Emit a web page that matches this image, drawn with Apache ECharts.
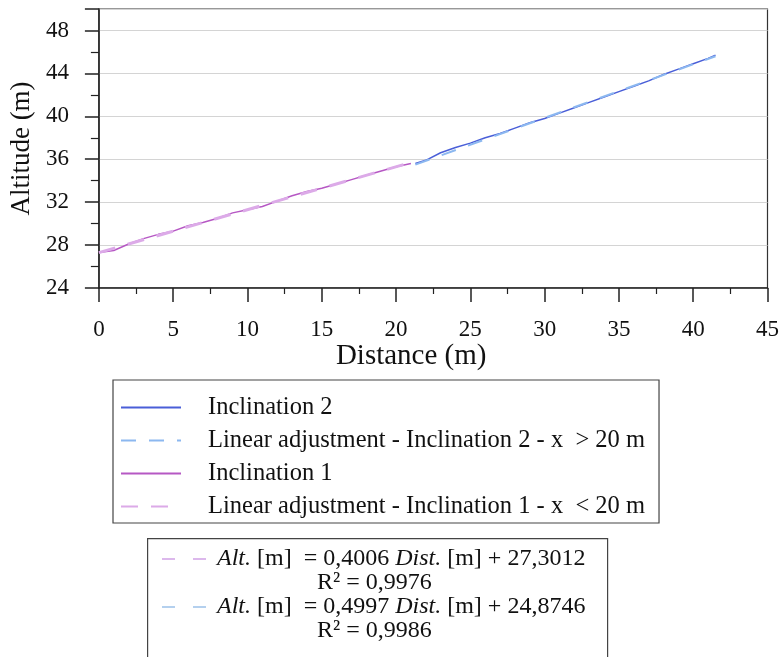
<!DOCTYPE html>
<html>
<head>
<meta charset="utf-8">
<script src="https://cdn.jsdelivr.net/npm/echarts@6/dist/echarts.min.js"></script>
<style>
  html, body { margin: 0; padding: 0; background: #fff; }
  #main { width: 782px; height: 657px; }
</style>
</head>
<body>
<div id="main"></div>
<script>
// measured profile, inclination 1 (x < 20 m)
var incl1X = [0, 1, 2, 3, 4, 5, 6, 7, 8, 9, 10, 11, 12, 13, 14, 15, 16, 17, 18, 19, 20, 21];
var incl1Y = [27.3, 27.5, 28.1, 28.6, 29.0, 29.3, 29.8, 30.1, 30.5, 31.0, 31.3, 31.6, 32.1, 32.6, 33.0, 33.3, 33.7, 34.1, 34.5, 34.9, 35.3, 35.6];

// measured profile, inclination 2 (x > 20 m)
var incl2X = [21.3, 22, 23, 24, 25, 26, 27, 28, 29, 30, 31, 32, 33, 34, 35, 36, 37, 38, 39, 40, 41, 41.5];
var incl2Y = [35.6, 35.9, 36.6, 37.1, 37.5, 38.0, 38.4, 38.9, 39.4, 39.8, 40.3, 40.8, 41.3, 41.8, 42.3, 42.8, 43.3, 43.9, 44.4, 44.9, 45.4, 45.7];

// linear adjustments (end points)
var fit1X = [0, 21];
var fit1Y = [27.3, 35.7];
var fit2X = [21.3, 41.5];
var fit2Y = [35.5, 45.6];

var seriesNames = [
  'Inclination 2',
  'Linear adjustment - Inclination 2 - x  > 20 m',
  'Inclination 1',
  'Linear adjustment - Inclination 1 - x  < 20 m'
];

var eqTexts = [
  '{i|Alt.} [m]  = 0,4006 {i|Dist.} [m] + 27,3012',
  'R² = 0,9976',
  '{i|Alt.} [m]  = 0,4997 {i|Dist.} [m] + 24,8746',
  'R² = 0,9986'
];

function pairs(xs, ys) {
  return xs.map(function (x, i) { return [x, ys[i]]; });
}

var serif = '"Liberation Serif", "Times New Roman", serif';
var italicRich = { i: { fontStyle: 'italic', fontFamily: serif, fontSize: 24, color: '#111' } };
var myChart = echarts.init(document.getElementById('main'));

var option = {
  backgroundColor: '#fff',
  animation: false,
  textStyle: { fontFamily: serif },
  grid: {
    left: 98, right: 13, top: 9, bottom: 369,
    show: true, borderColor: '#333', borderWidth: 1.2
  },
  legend: {
    data: seriesNames,
    orient: 'vertical',
    left: 113, top: 380,
    itemWidth: 60, itemHeight: 14,
    itemGap: 8,
    padding: [15, 14, 4, 7],
    borderColor: '#444', borderWidth: 1.2,
    itemStyle: { opacity: 0, borderWidth: 0 },
    textStyle: { fontFamily: serif, fontSize: 24.5, color: '#111', padding: [0, 0, 0, 22] }
  },
  xAxis: {
    type: 'value', min: 0, max: 45, interval: 5,
    name: 'Distance (m)', nameLocation: 'middle', nameGap: 54,
    nameTextStyle: { fontFamily: serif, fontSize: 29, color: '#111', padding: [0, 44, 0, 0] },
    axisLine: { lineStyle: { color: '#222', width: 1.5 } },
    axisTick: { show: true, length: 14, lineStyle: { color: '#222', width: 1.5 } },
    minorTick: { show: true, splitNumber: 2, length: 6, lineStyle: { color: '#222', width: 1.2 } },
    axisLabel: { fontFamily: serif, fontSize: 23, color: '#111', margin: 30 },
    splitLine: { show: false }
  },
  yAxis: {
    type: 'value', min: 24, max: 50, interval: 4,
    name: 'Altitude (m)', nameLocation: 'middle', nameGap: 58,
    nameTextStyle: { fontFamily: serif, fontSize: 27, color: '#111' },
    axisLine: { lineStyle: { color: '#222', width: 1.5 } },
    axisTick: { show: true, length: 14, lineStyle: { color: '#222', width: 1.5 } },
    minorTick: { show: true, splitNumber: 2, length: 8, lineStyle: { color: '#222', width: 1.2 } },
    axisLabel: { fontFamily: serif, fontSize: 23, color: '#111', margin: 30, showMaxLabel: false },
    splitLine: { show: true, lineStyle: { color: '#d4d4d4', width: 1.2 } }
  },
  series: [
    {
      name: seriesNames[0], type: 'line', symbol: 'none',
      data: pairs(incl2X, incl2Y),
      lineStyle: { color: '#4a5fd8', width: 1.5 }, itemStyle: { color: '#4a5fd8' }
    },
    {
      name: seriesNames[1], type: 'line', symbol: 'none',
      data: pairs(fit2X, fit2Y),
      lineStyle: { color: '#8cb8f0', width: 2, type: [15, 13] }, itemStyle: { color: '#8cb8f0' }
    },
    {
      name: seriesNames[2], type: 'line', symbol: 'none',
      data: pairs(incl1X, incl1Y),
      lineStyle: { color: '#b658c4', width: 1.5 }, itemStyle: { color: '#b658c4' }
    },
    {
      name: seriesNames[3], type: 'line', symbol: 'none',
      data: pairs(fit1X, fit1Y),
      lineStyle: { color: '#dcaae8', width: 3, type: [17, 13] }, itemStyle: { color: '#dcaae8' }
    }
  ],
  graphic: [
    {
      type: 'rect', left: 147, top: 538,
      shape: { width: 460, height: 130 },
      style: { fill: '#fff', stroke: '#444', lineWidth: 1.2 }
    },
    { type: 'line', shape: { x1: 162, y1: 559, x2: 210, y2: 559 }, style: { stroke: '#dcb8ec', lineWidth: 2, lineDash: [13, 18] } },
    { type: 'line', shape: { x1: 162, y1: 607, x2: 210, y2: 607 }, style: { stroke: '#b4d0ee', lineWidth: 2, lineDash: [13, 18] } },
    {
      type: 'text', left: 217, top: 547,
      style: { text: eqTexts[0], font: '24px ' + serif, fill: '#111', rich: italicRich }
    },
    {
      type: 'text', left: 317, top: 571,
      style: { text: eqTexts[1], font: '24px ' + serif, fill: '#111' }
    },
    {
      type: 'text', left: 217, top: 595,
      style: { text: eqTexts[2], font: '24px ' + serif, fill: '#111', rich: italicRich }
    },
    {
      type: 'text', left: 317, top: 619,
      style: { text: eqTexts[3], font: '24px ' + serif, fill: '#111' }
    }
  ]
};

myChart.setOption(option);
</script>
</body>
</html>
